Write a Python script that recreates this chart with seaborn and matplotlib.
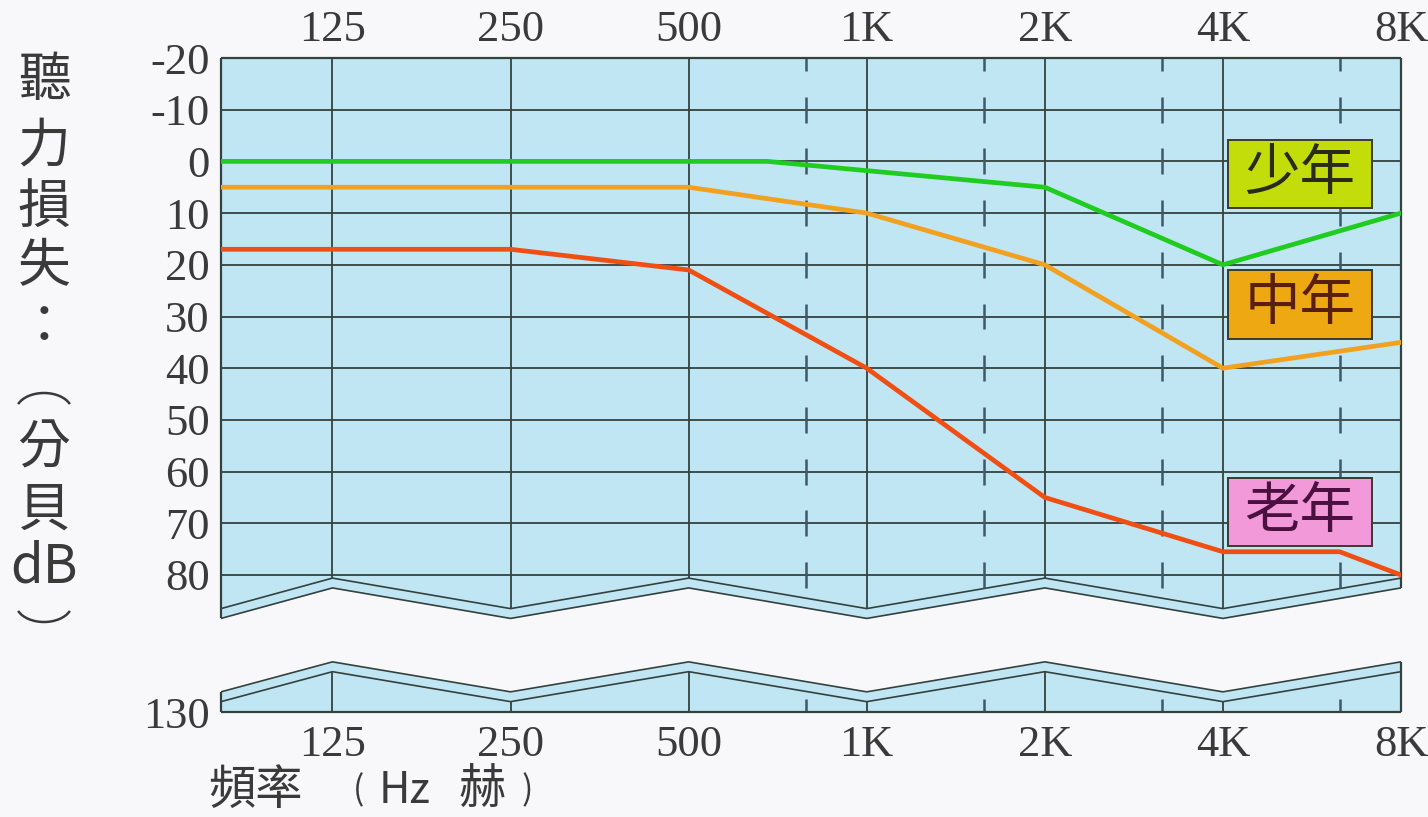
import numpy as np
import pandas as pd
import matplotlib
matplotlib.use('Agg')
import matplotlib.pyplot as plt
from matplotlib.patches import Rectangle, Arc
from matplotlib.ticker import NullLocator
import seaborn as sns

# ---- data ----
freqs = [125, 250, 500, 1000, 2000, 4000, 8000]
freq_labels = ['125', '250', '500', '1K', '2K', '4K', '8K']
half_freqs = [790, 1580, 3160, 6320]      # dashed in-between lines
f_left = 81                               # left edge of the grid (Hz)

db_ticks = [-20, -10, 0, 10, 20, 30, 40, 50, 60, 70, 80]
db_labels = ['-20', '-10', '0', '10', '20', '30', '40', '50', '60', '70', '80']

young_hz = [81, 125, 250, 500, 680, 2000, 4000, 8000]
young_db = [0, 0, 0, 0, 0, 5, 20, 10]
mid_hz = [81, 125, 250, 500, 1000, 2000, 4000, 8000]
mid_db = [5, 5, 5, 5, 10, 20, 40, 35]
old_hz = [81, 125, 250, 500, 1000, 2000, 4000, 6300, 8000]
old_db = [17, 17, 17, 21, 40, 65, 75.5, 75.5, 80]

groups = ['少年', '中年', '老年']
line_colors = ['#20cc20', '#f2a020', '#f04f14']
box_colors = ['#c3dd0a', '#eda812', '#f29ad9']
text_colors = ['#2a2a1a', '#5a1e0c', '#4a1040']
box_db = [(-4.1, 9.0), (21.0, 34.4), (61.2, 74.4)]
box_hz = (4080, 7150)

# axis break zigzags (dB) at left edge + each octave
zig_hz = [f_left] + freqs
zig_upper = [86.5, 80.6, 86.5, 80.6, 86.5, 80.6, 86.5, 80.6]
zig_lower = [126.1, 120.3, 126.1, 120.3, 126.1, 120.3, 126.1, 120.3]
zig_gap = 1.9

BLUE = '#c1e6f3'
GRID = '#34423f'
DASH = '#3d5868'
TXT = '#3a3a3a'
BG = '#f8f8fa'

sns.set_theme(style='white')
plt.rcParams['font.family'] = ['Liberation Serif', 'DejaVu Serif']
CJK = ['Noto Sans CJK TC', 'DejaVu Sans']

W, H = 1428, 817
fig = plt.figure(figsize=(W / 100, H / 100), dpi=100, facecolor=BG)

px_db = 5.17
y0_px = 161.4
up_bottom = 89.1
ax = fig.add_axes([221 / W, 1 - (y0_px + up_bottom * px_db) / H, 1180 / W, (y0_px + up_bottom * px_db - 58) / H])
lo_top = 118.0
ax2 = fig.add_axes([221 / W, 1 - 712 / H, 1180 / W, (130 - lo_top) * px_db / H])


def zig_at(f, vals):
    return np.interp(np.log2(f), np.log2(zig_hz), vals)


for a in (ax, ax2):
    a.set_xscale('log', base=2)
    a.set_xlim(f_left, 8000)
    a.set_facecolor('none')
    for s in a.spines.values():
        s.set_visible(False)
    a.xaxis.set_minor_locator(NullLocator())
    a.tick_params(length=0, labelsize=32, labelcolor=TXT)

# ---- upper part ----
ax.set_ylim(up_bottom, -20)
zu = np.array(zig_upper)
ax.fill_between(zig_hz, -20, zu + zig_gap, color=BLUE, lw=0, zorder=0)
ax.plot(zig_hz, zu, color=GRID, lw=1.2, zorder=1)
ax.plot(zig_hz, zu + zig_gap, color=GRID, lw=1.2, zorder=1)
ax.hlines(db_ticks[1:], f_left, 8000, color=GRID, lw=1.3, zorder=1)
ax.vlines(freqs[:-1], -20, zig_at(freqs[:-1], zu), color=GRID, lw=1.3, zorder=1)
dash_x = np.repeat(half_freqs, len(db_ticks))
dash_y = np.tile(db_ticks, len(half_freqs))
ax.vlines(dash_x, np.maximum(dash_y - 2.5, -20), dash_y + 2.5, color=DASH, lw=1.8, zorder=1)
# frame
ax.hlines(-20, f_left, 8000, color=GRID, lw=1.6, zorder=2, clip_on=False)
ax.vlines(f_left, -20, zu[0] + zig_gap, color=GRID, lw=1.6, zorder=2, clip_on=False)
ax.vlines(8000, -20, zu[-1] + zig_gap, color=GRID, lw=1.6, zorder=2, clip_on=False)

# curves
df = pd.concat([
    pd.DataFrame({'hz': young_hz, 'db': young_db, 'group': groups[0]}),
    pd.DataFrame({'hz': mid_hz, 'db': mid_db, 'group': groups[1]}),
    pd.DataFrame({'hz': old_hz, 'db': old_db, 'group': groups[2]}),
], ignore_index=True)
sns.lineplot(data=df, x='hz', y='db', hue='group', palette=dict(zip(groups, line_colors)),
             estimator=None, sort=False, legend=False, lw=3.4, ax=ax, zorder=3)
ax.set_xlabel('')
ax.set_ylabel('')

# group labels
for g, fc, tc, (y1, y2) in zip(groups, box_colors, text_colors, box_db):
    ax.add_patch(Rectangle((box_hz[0], y1), box_hz[1] - box_hz[0], y2 - y1,
                           facecolor=fc, edgecolor='#3a3a30', lw=1.4, zorder=4))
    xm = np.sqrt(box_hz[0] * box_hz[1])
    ax.text(xm, (y1 + y2) / 2, g, ha='center', va='center', fontsize=40,
            color=tc, family=CJK, zorder=5)

ax.xaxis.tick_top()
ax.set_xticks(freqs, freq_labels)
ax.set_yticks(db_ticks, db_labels)
ax.tick_params(axis='x', pad=6)
ax.tick_params(axis='y', pad=8)

# ---- lower part ----
ax2.set_ylim(130, lo_top)
zl = np.array(zig_lower)
ax2.fill_between(zig_hz, zl, 130, color=BLUE, lw=0, zorder=0)
ax2.plot(zig_hz, zl, color=GRID, lw=1.2, zorder=1)
ax2.plot(zig_hz, zl + zig_gap, color=GRID, lw=1.2, zorder=1)
ax2.vlines(freqs[:-1], zig_at(freqs[:-1], zl + zig_gap), 130, color=GRID, lw=1.3, zorder=1)
ax2.vlines(half_freqs, 127.5, 130, color=DASH, lw=1.8, zorder=1)
ax2.hlines(130, f_left, 8000, color=GRID, lw=1.6, zorder=2, clip_on=False)
ax2.vlines(f_left, zl[0], 130, color=GRID, lw=1.6, zorder=2, clip_on=False)
ax2.vlines(8000, zl[-1], 130, color=GRID, lw=1.6, zorder=2, clip_on=False)
ax2.set_xticks(freqs, freq_labels)
ax2.set_yticks([130], ['130'])
ax2.tick_params(axis='x', pad=9)
ax2.tick_params(axis='y', pad=8)

# ---- axis titles (vertical, stacked characters) ----
ylab_chars = ['聽', '力', '損', '失', '：', '分', '貝', 'dB']
ylab_y = [80, 146, 207, 267, 328, 448, 510, 567]
for ch, yp in zip(ylab_chars, ylab_y):
    fig.text(44 / W, 1 - yp / H, ch, ha='center', va='center', fontsize=38,
             color=TXT, family=CJK)
# vertical-form brackets around 分貝dB
for yc, t1, t2 in [(411, 25, 155), (604, 205, 335)]:
    fig.add_artist(Arc((44 / W, 1 - yc / H), 56 / W, 36 / H, theta1=t1, theta2=t2,
                       transform=fig.transFigure, color=TXT, lw=1.8))

xlab_parts = [('頻率', 255, 34), ('(', 359, 24), ('Hz', 405, 31), ('赫', 482, 34), (')', 527, 24)]
for t, xp, fs in xlab_parts:
    fig.text(xp / W, 1 - 791 / H, t, ha='center', va='center', fontsize=fs,
             color=TXT, family=CJK)

fig.savefig('out.png', dpi=100, facecolor=BG)
